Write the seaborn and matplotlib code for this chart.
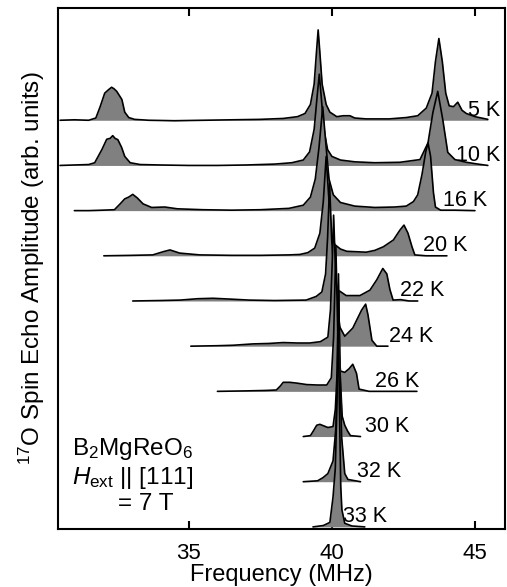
import matplotlib
matplotlib.use("Agg")
import matplotlib.pyplot as plt
import seaborn as sns
import pandas as pd

# spectra: (frequency MHz, amplitude in units of the stack spacing)
s5K = [(30.5, 0.0), (31.0, 0.01), (31.5, 0.0), (31.75, 0.05), (31.9, 0.3), (32.06, 0.6),
       (32.2, 0.68), (32.3, 0.73), (32.38, 0.7), (32.48, 0.64), (32.66, 0.46), (32.76, 0.18),
       (32.9, 0.06), (33.1, 0.02), (33.6, 0.0), (34.5, -0.01), (35.5, 0.0), (36.5, 0.01),
       (37.5, 0.02), (38.3, 0.04), (38.8, 0.08), (39.06, 0.15), (39.25, 0.35), (39.38, 0.8),
       (39.46, 1.5), (39.52, 2.0), (39.58, 1.5), (39.66, 0.8), (39.8, 0.35), (39.93, 0.18),
       (40.17, 0.08), (40.4, 0.1), (40.63, 0.1), (40.8, 0.05), (41.2, 0.03), (42.0, 0.03),
       (42.6, 0.06), (43.0, 0.1), (43.3, 0.27), (43.5, 0.6), (43.62, 1.3), (43.74, 1.81),
       (43.86, 1.3), (43.98, 0.6), (44.1, 0.32), (44.25, 0.3), (44.4, 0.4), (44.55, 0.22),
       (44.7, 0.15), (45.0, 0.08), (45.45, 0.02)]
s10K = [(30.5, 0.0), (31.0, 0.01), (31.5, 0.02), (31.71, 0.06), (31.96, 0.35), (32.13, 0.58),
        (32.25, 0.6), (32.34, 0.66), (32.42, 0.6), (32.52, 0.57), (32.65, 0.4), (32.76, 0.2),
        (32.95, 0.06), (33.3, 0.02), (34.0, 0.01), (35.0, 0.0), (36.0, 0.0), (37.0, 0.01),
        (38.0, 0.03), (38.6, 0.06), (39.0, 0.12), (39.22, 0.3), (39.38, 0.8), (39.48, 1.5),
        (39.56, 2.02), (39.63, 1.5), (39.72, 0.8), (39.85, 0.35), (40.0, 0.2), (40.3, 0.12),
        (40.8, 0.08), (41.5, 0.06), (42.38, 0.07), (43.08, 0.13), (43.36, 0.5), (43.53, 1.17),
        (43.7, 1.64), (43.88, 1.0), (44.05, 0.29), (44.3, 0.13), (44.7, 0.07), (45.1, 0.03),
        (45.45, 0.0)]
s16K = [(31.0, 0.0), (31.5, 0.0), (32.0, 0.01), (32.4, 0.02), (32.6, 0.15), (32.76, 0.26),
        (32.9, 0.3), (33.04, 0.36), (33.2, 0.28), (33.4, 0.15), (33.7, 0.07), (34.16, 0.08),
        (34.6, 0.04), (35.5, 0.02), (36.5, 0.01), (37.5, 0.02), (38.5, 0.05), (39.0, 0.12),
        (39.25, 0.3), (39.42, 0.7), (39.55, 1.4), (39.68, 2.3), (39.8, 1.4), (39.9, 0.7),
        (40.05, 0.35), (40.3, 0.18), (40.8, 0.1), (41.5, 0.07), (42.2, 0.08), (42.6, 0.1),
        (42.85, 0.2), (43.0, 0.35), (43.15, 0.8), (43.28, 1.3), (43.36, 1.5), (43.45, 1.2),
        (43.55, 0.4), (43.62, 0.08), (43.8, 0.01), (44.3, 0.01), (45.0, 0.0)]
s20K = [(32.03, 0.0), (33.0, 0.01), (33.74, 0.02), (34.1, 0.09), (34.34, 0.13), (34.68, 0.06),
        (35.38, 0.02), (36.5, 0.01), (37.5, 0.01), (38.5, 0.02), (38.88, 0.03), (39.16, 0.07),
        (39.4, 0.17), (39.58, 0.5), (39.7, 1.2), (39.8, 2.2), (39.9, 1.2), (40.0, 0.45),
        (40.1, 0.25), (40.3, 0.15), (40.52, 0.1), (41.2, 0.08), (41.5, 0.12), (41.8, 0.2),
        (42.15, 0.35), (42.38, 0.57), (42.52, 0.68), (42.66, 0.5), (42.8, 0.2), (42.9, 0.02),
        (43.3, 0.0), (44.02, 0.0)]
s22K = [(33.04, 0.0), (34.0, 0.01), (34.7, 0.02), (35.3, 0.05), (35.85, 0.06), (36.5, 0.04),
        (37.1, 0.02), (38.0, 0.01), (39.1, 0.02), (39.45, 0.1), (39.65, 0.2), (39.78, 0.6),
        (39.85, 1.4), (39.92, 2.6), (39.99, 1.4), (40.07, 0.6), (40.2, 0.25), (40.5, 0.12),
        (40.98, 0.12), (41.33, 0.24), (41.57, 0.47), (41.78, 0.72), (41.92, 0.6), (42.03, 0.25),
        (42.14, 0.02), (42.4, 0.03), (42.7, 0.0), (43.0, 0.0)]
s24K = [(35.07, 0.0), (36.0, 0.01), (36.54, 0.02), (37.24, 0.05), (37.8, 0.06), (38.3, 0.08),
        (38.8, 0.07), (39.23, 0.07), (39.6, 0.1), (39.86, 0.2), (39.95, 0.8), (40.02, 2.0),
        (40.06, 2.9), (40.11, 2.0), (40.2, 0.8), (40.28, 0.42), (40.45, 0.22), (40.73, 0.4),
        (41.04, 0.8), (41.18, 0.93), (41.26, 0.7), (41.4, 0.13), (41.57, 0.0), (41.96, 0.0)]
s26K = [(36.0, 0.0), (37.0, 0.01), (37.7, 0.02), (38.06, 0.03), (38.2, 0.12), (38.3, 0.2),
        (38.53, 0.2), (38.8, 0.18), (39.12, 0.15), (39.5, 0.14), (39.82, 0.14), (39.98, 0.3),
        (40.06, 1.2), (40.14, 3.2), (40.21, 1.2), (40.3, 0.45), (40.45, 0.42), (40.6, 0.5),
        (40.73, 0.6), (40.86, 0.4), (40.95, 0.05), (41.3, 0.0), (42.97, 0.0)]
s30K = [(39.0, 0.0), (39.25, 0.02), (39.35, 0.12), (39.47, 0.25), (39.58, 0.27), (39.7, 0.24),
        (39.86, 0.2), (40.04, 0.22), (40.12, 0.6), (40.19, 1.5), (40.23, 3.6), (40.28, 1.5),
        (40.36, 0.45), (40.45, 0.25), (40.55, 0.12), (40.65, 0.02), (41.0, 0.0)]
s32K = [(39.0, 0.0), (39.5, 0.02), (39.69, 0.09), (39.86, 0.18), (40.04, 0.46), (40.14, 1.2),
        (40.2, 2.5), (40.24, 4.2), (40.28, 2.5), (40.34, 1.0), (40.45, 0.18), (40.56, 0.05),
        (41.0, 0.0)]
s33K = [(39.34, 0.0), (39.7, 0.03), (39.93, 0.1), (40.04, 0.66), (40.12, 1.3), (40.18, 2.8),
        (40.22, 5.0), (40.26, 2.8), (40.31, 0.9), (40.35, 0.38), (40.45, 0.08), (40.7, 0.02),
        (41.15, 0.0)]

temps = ['5 K', '10 K', '16 K', '20 K', '22 K', '24 K', '26 K', '30 K', '32 K', '33 K']
spectra = [s5K, s10K, s16K, s20K, s22K, s24K, s26K, s30K, s32K, s33K]

# layout: where each temperature label starts (MHz)
label_x = [44.76, 44.34, 43.88, 43.18, 42.38, 41.99, 41.5, 41.15, 40.87, 40.38]

sns.set_style('ticks')
plt.rcParams['font.family'] = ['Liberation Sans', 'DejaVu Sans']
plt.rcParams['mathtext.fontset'] = 'custom'
plt.rcParams['mathtext.rm'] = 'Liberation Sans'
plt.rcParams['mathtext.it'] = 'Liberation Sans:italic'
plt.rcParams['text.color'] = 'black'
plt.rcParams['axes.labelcolor'] = 'black'
plt.rcParams['xtick.color'] = 'black'
plt.rcParams['ytick.color'] = 'black'

fig = plt.figure(figsize=(5.07, 5.87), dpi=100)
ax = fig.add_axes([0.114, 0.099, 0.882, 0.887])

n = len(spectra)
for i, (name, spec) in enumerate(zip(temps, spectra)):
    offset = n - 1 - i
    df = pd.DataFrame(spec, columns=['freq', 'amp'])
    df['y'] = df['amp'] + offset
    ax.fill_between(df['freq'], offset, df['y'], color='#808080', lw=0, zorder=2 * i + 1)
    sns.lineplot(data=df, x='freq', y='y', ax=ax, color='black', lw=1.2,
                 estimator=None, sort=False, zorder=2 * i + 2)
    ax.text(label_x[i], offset + 0.1, name, fontsize=15.5, ha='left', va='baseline',
            color='black', zorder=30)

ax.set_xlim(30.42, 46.05)
ax.set_ylim(-0.044, 11.48)
ax.set_xticks([35, 40, 45])
ax.set_yticks([])
ax.tick_params(axis='x', direction='in', top=True, bottom=True, length=6, width=1.5,
               labelsize=16, pad=10, colors='black')
for sp in ax.spines.values():
    sp.set_linewidth(1.5)
    sp.set_color('black')

ax.set_xlabel('Frequency (MHz)', fontsize=17, labelpad=0)
ax.set_ylabel('$^{17}$O Spin Echo Amplitude (arb. units)', fontsize=17.5, labelpad=8)

ax.text(0.031, 0.142, 'B$_2$MgReO$_6$', transform=ax.transAxes, fontsize=17.5,
        ha='left', va='baseline')
ax.text(0.031, 0.086, r'$H_{\mathrm{ext}}$ || [111]', transform=ax.transAxes,
        fontsize=17.5, ha='left', va='baseline')
ax.text(0.134, 0.036, '= 7 T', transform=ax.transAxes, fontsize=17.5,
        ha='left', va='baseline')

fig.savefig('out.png', dpi=100)
